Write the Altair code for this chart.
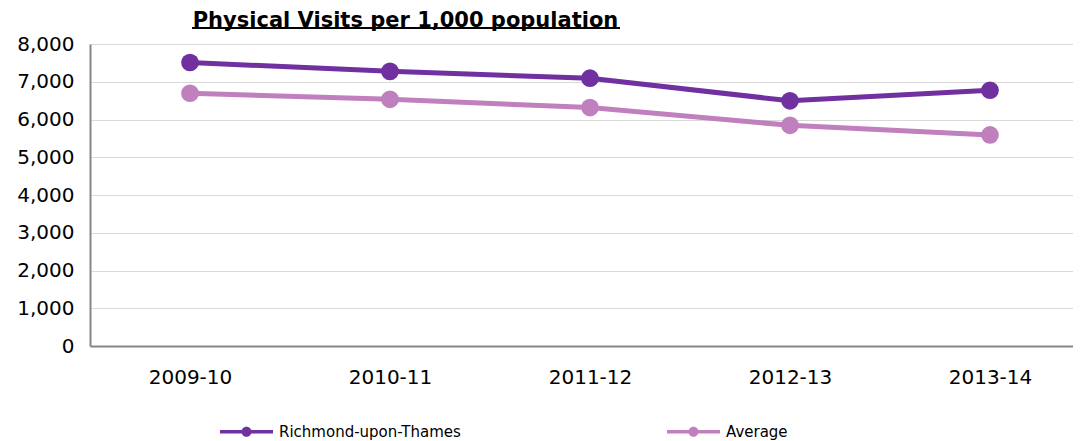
import altair as alt
import pandas as pd

years = ["2009-10", "2010-11", "2011-12", "2012-13", "2013-14"]
richmond = [7510, 7275, 7095, 6495, 6775]
average = [6695, 6535, 6315, 5845, 5590]
series = ["Richmond-upon-Thames", "Average"]
colors = ["#7030A0", "#C07FBD"]
y_ticks = [0, 1000, 2000, 3000, 4000, 5000, 6000, 7000, 8000]

rows = []
for name, vals in zip(series, [richmond, average]):
    for yr, v in zip(years, vals):
        rows.append({"year": yr, "series": name, "value": v})
df = pd.DataFrame(rows)

FONT = "DejaVu Sans"
sym = ("M-1,-0.066H1V0.066H-1Z "
       "M-0.19,0A0.19,0.19 0 1,1 0.19,0A0.19,0.19 0 1,1 -0.19,0Z")

x = alt.X("year:N", sort=years,
          scale=alt.Scale(type="point", padding=0.4575, align=0.5464),
          axis=alt.Axis(title=None, labelAngle=0, labelFontSize=20, labelFont=FONT,
                        labelColor="#000000", ticks=False, labelPadding=21,
                        domainColor="#868686", domainWidth=2, grid=False))
y = alt.Y("value:Q", scale=alt.Scale(domain=[0, 8000], nice=False),
          axis=alt.Axis(title=None, values=y_ticks, format=",d", labelFontSize=20,
                        labelFont=FONT, labelColor="#000000", ticks=False,
                        labelPadding=16, minExtent=82, maxExtent=82,
                        grid=True, gridColor="#d9d9d9", gridWidth=1,
                        domainColor="#868686", domainWidth=2))
color = alt.Color("series:N", sort=series,
                  scale=alt.Scale(domain=series, range=colors),
                  legend=alt.Legend(title=None, orient="none", direction="horizontal",
                                    legendX=130, legendY=361, symbolType=sym,
                                    symbolSize=2809, symbolStrokeWidth=0,
                                    labelFontSize=15, labelFont=FONT, labelLimit=0,
                                    labelColor="#000000", labelOffset=6,
                                    columnPadding=206))

base = alt.Chart(df)
lines = base.mark_line(strokeWidth=5).encode(x=x, y=y, color=color)
dots = base.mark_circle(size=314, opacity=1).encode(x=x, y=y, color=color)

underline = alt.Chart(pd.DataFrame({"u": [0]})).mark_rule(
    color="#000000", strokeWidth=2).encode(
    x=alt.value(102), x2=alt.value(530), y=alt.value(-16))

chart = alt.layer(lines, dots, underline).properties(
    width=983, height=302,
    padding={"left": 0, "top": 2, "right": 0, "bottom": 0},
    title=alt.TitleParams("Physical Visits per 1,000 population", fontSize=21,
                          font=FONT, fontWeight="bold", anchor="middle", dx=-176,
                          offset=-4, color="#000000"),
).configure_view(stroke=None)

chart.save("out.html", embed_options={"renderer": "svg", "actions": False})
